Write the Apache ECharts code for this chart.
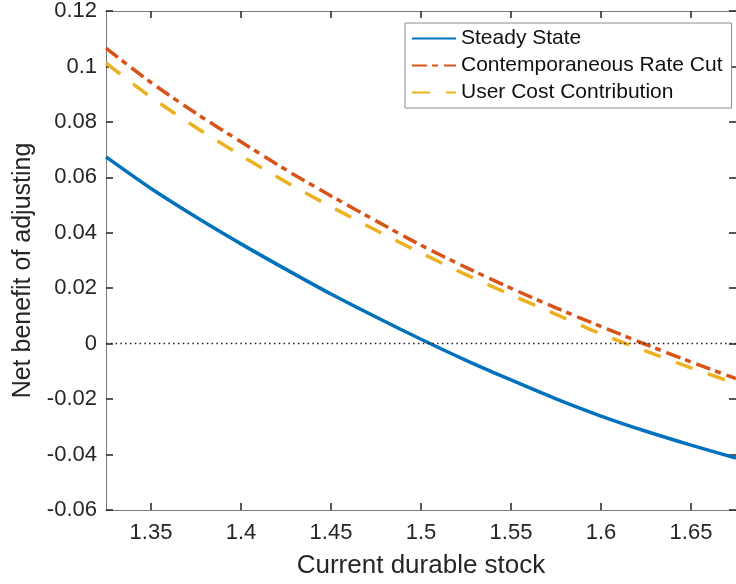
<!DOCTYPE html>
<html>
<head>
<meta charset="utf-8">
<script src="https://cdn.jsdelivr.net/npm/echarts@6/dist/echarts.min.js"></script>
<style>
  html, body { margin: 0; padding: 0; background: #fff; }
  #chart { width: 736px; height: 584px; }
</style>
</head>
<body>
<div id="chart"></div>
<script>
// Current durable stock (x grid shared by all three curves)
const stock = [1.325, 1.35, 1.375, 1.4, 1.425, 1.45, 1.475, 1.5, 1.525, 1.55, 1.575, 1.6, 1.625, 1.65, 1.675];

// Net benefit of adjusting
const steadyState = [0.0674, 0.0560, 0.0457, 0.0360, 0.0268, 0.0179, 0.0096, 0.0016, -0.0060, -0.0131, -0.0199, -0.0261, -0.0316, -0.0366, -0.0413];
const rateCut     = [0.1066, 0.0942, 0.0831, 0.0728, 0.0627, 0.0533, 0.0443, 0.0355, 0.0275, 0.0200, 0.0129, 0.0062, -0.0003, -0.0066, -0.0126];
const userCost    = [0.1012, 0.0889, 0.0780, 0.0679, 0.0583, 0.0494, 0.0409, 0.0327, 0.0249, 0.0176, 0.0106, 0.0035, -0.0027, -0.0087, -0.0144];

const seriesNames = ['Steady State', 'Contemporaneous Rate Cut', 'User Cost Contribution'];
const xTicks = [1.35, 1.4, 1.45, 1.5, 1.55, 1.6, 1.65];

const FONT = '"Liberation Sans", Arial, Helvetica, sans-serif';
const AXIS_COLOR = '#7a7a7a';
const TICK_COLOR = '#222';
const TEXT_COLOR = '#262626';

function pairs(ys) {
  return stock.map((x, i) => [x, ys[i]]);
}

// one side of the axes box: line plus inward ticks
function boxSide(extra) {
  return Object.assign({
    axisLine: { show: true, onZero: false, lineStyle: { color: AXIS_COLOR, width: 1 } },
    axisTick: { show: true, inside: true, length: 7, lineStyle: { color: TICK_COLOR, width: 1.5 } },
    splitLine: { show: false }
  }, extra);
}

const xTick = { show: true, inside: true, length: 7, customValues: xTicks, lineStyle: { color: TICK_COLOR, width: 1.5 } };

const chart = echarts.init(document.getElementById('chart'));

chart.setOption({
  animation: false,
  backgroundColor: '#ffffff',
  textStyle: { fontFamily: FONT },
  grid: { left: 106, right: 0, top: 11, bottom: 72 },
  legend: {
    orient: 'vertical',
    left: 405,
    top: 23,
    data: seriesNames,
    itemWidth: 44,
    itemHeight: 14,
    itemGap: 6,
    padding: [5, 9, 5, 6],
    borderColor: '#8a8a8a',
    borderWidth: 1,
    backgroundColor: '#ffffff',
    itemStyle: { opacity: 0 },
    textStyle: { fontFamily: FONT, fontSize: 21, color: '#111' }
  },
  xAxis: [
    boxSide({
      type: 'value',
      min: 1.325,
      max: 1.675,
      position: 'bottom',
      name: 'Current durable stock',
      nameLocation: 'middle',
      nameGap: 43,
      nameTextStyle: { fontFamily: FONT, fontSize: 26, color: TEXT_COLOR },
      axisTick: xTick,
      axisLabel: {
        customValues: xTicks,
        margin: 12,
        fontFamily: FONT,
        fontSize: 22,
        color: TEXT_COLOR,
        formatter: v => String(+v.toFixed(3))
      }
    }),
    boxSide({
      type: 'value',
      min: 1.325,
      max: 1.675,
      position: 'top',
      axisTick: xTick,
      axisLabel: { show: false }
    })
  ],
  yAxis: [
    boxSide({
      type: 'value',
      min: -0.06,
      max: 0.12,
      interval: 0.02,
      position: 'left',
      name: 'Net benefit of adjusting',
      nameLocation: 'middle',
      nameGap: 66,
      nameTextStyle: { fontFamily: FONT, fontSize: 25, color: TEXT_COLOR, padding: [0, 20, 0, 0] },
      axisLabel: {
        margin: 9,
        fontFamily: FONT,
        fontSize: 22,
        color: TEXT_COLOR,
        formatter: v => String(+v.toFixed(3))
      }
    }),
    boxSide({
      type: 'value',
      min: -0.06,
      max: 0.12,
      interval: 0.02,
      position: 'right',
      axisLabel: { show: false }
    })
  ],
  series: [
    {
      name: seriesNames[0],
      type: 'line',
      data: pairs(steadyState),
      smooth: 0.25,
      symbol: 'none',
      lineStyle: { color: '#0072BD', width: 3.5 },
      itemStyle: { color: '#0072BD' },
      markLine: {
        silent: true,
        symbol: 'none',
        label: { show: false },
        lineStyle: { color: '#222', width: 1.3, type: [1.5, 3.3] },
        data: [{ yAxis: 0 }]
      }
    },
    {
      name: seriesNames[1],
      type: 'line',
      data: pairs(rateCut),
      smooth: 0.25,
      symbol: 'none',
      lineStyle: { color: '#D95319', width: 3.5, type: [15, 5, 6, 6] },
      itemStyle: { color: '#D95319' }
    },
    {
      name: seriesNames[2],
      type: 'line',
      data: pairs(userCost),
      smooth: 0.25,
      symbol: 'none',
      lineStyle: { color: '#EDB120', width: 3.5, type: [18, 16] },
      itemStyle: { color: '#EDB120' }
    }
  ]
});
</script>
</body>
</html>
